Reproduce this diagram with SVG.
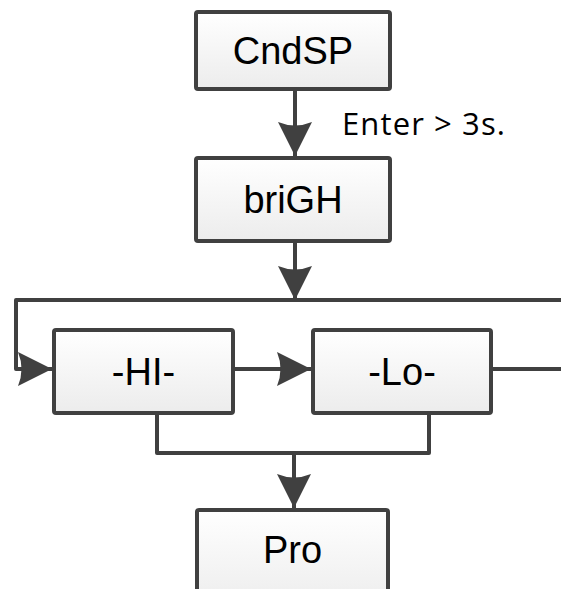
<svg xmlns="http://www.w3.org/2000/svg" width="561" height="589" viewBox="0 0 561 589">
<style>
.box{fill:url(#g);stroke:#404040;stroke-width:4}
.lbl{font-family:"Liberation Sans",Arial,sans-serif;font-size:38px;fill:#000;text-anchor:middle}
.ln{fill:none;stroke:#404040;stroke-width:4;stroke-linejoin:round}
.arr{marker-end:url(#ah)}
.note{font-family:"Open Sans","Noto Sans",sans-serif;font-size:31px;fill:#000}
</style>
<defs>
<linearGradient id="g" x1="0" y1="0" x2="0" y2="1">
<stop offset="0" stop-color="#ffffff"/>
<stop offset="1" stop-color="#ececec"/>
</linearGradient>
<marker id="ah" markerUnits="userSpaceOnUse" markerWidth="34" markerHeight="34" refX="34" refY="17" orient="auto" overflow="visible">
<path d="M34,17 L0,0 Q7,17 0,34 Z" fill="#404040"/>
</marker>
</defs>
<g id="connectors">
<line class="ln arr" x1="295" y1="91" x2="295" y2="156"/>
<line class="ln arr" x1="295" y1="243" x2="295" y2="300"/>
<polyline class="ln" points="561,300 16,300 16,369 30,369"/>
<line class="ln arr" x1="16" y1="369" x2="52" y2="369"/>
<line class="ln arr" x1="235" y1="369" x2="311" y2="369"/>
<line class="ln" x1="493" y1="369" x2="561" y2="369"/>
<polyline class="ln" points="157,415 157,453 429,453 429,415"/>
<line class="ln arr" x1="294" y1="453" x2="294" y2="508"/>
</g>
<g id="note"><text class="note" x="342" y="135" textLength="163" lengthAdjust="spacing">Enter &gt; 3s.</text></g>
<g id="CndSP"><rect class="box" x="196" y="12" width="194" height="77" rx="2"/><text class="lbl" x="293" y="64">CndSP</text></g>
<g id="briGH"><rect class="box" x="196" y="158" width="194" height="83" rx="2"/><text class="lbl" x="293" y="213">briGH</text></g>
<g id="HI"><rect class="box" x="54" y="330" width="179" height="83" rx="2"/><text class="lbl" x="143.5" y="385">-HI-</text></g>
<g id="Lo"><rect class="box" x="313" y="330" width="178" height="83" rx="2"/><text class="lbl" x="402" y="385">-Lo-</text></g>
<g id="Pro"><rect class="box" x="197" y="510" width="191" height="100" rx="2"/><text class="lbl" x="292.5" y="563">Pro</text></g>
</svg>
